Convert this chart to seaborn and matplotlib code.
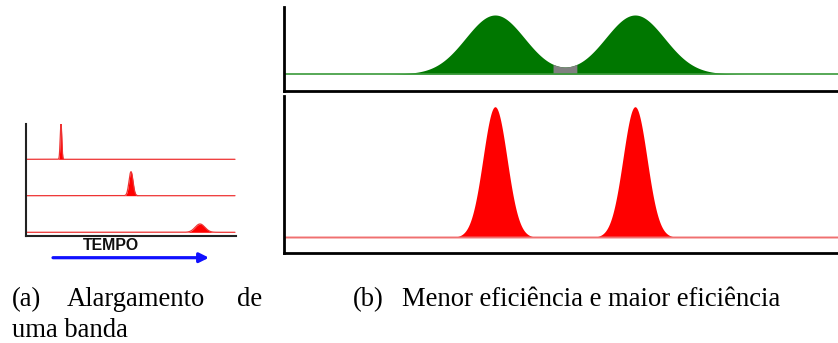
import numpy as np
import pandas as pd
import matplotlib
matplotlib.use("Agg")
import matplotlib.pyplot as plt
import seaborn as sns

# ---------------- data ----------------
# Panel (a): band broadening with time (three stacked chromatogram traces)
a_peak_time = [35, 105, 174]          # retention time (arbitrary units)
a_peak_height = [35.3, 24.0, 8.3]     # peak height
a_peak_sigma = [0.8, 2.0, 4.8]        # band width (std dev)
a_baseline = [76.7, 40.3, 3.7]        # vertical offset of each trace
a_time_range = [0, 209]
a_ylim = [0, 112]

# Panel (b): lower efficiency (top, green) vs higher efficiency (bottom, red)
b_peak_time = [211, 351]
b_low_height = [59, 59]
b_low_sigma = [29.5, 29.5]
b_low_baseline = 17
b_low_ylim = [0, 84]
b_high_height = [130.8, 130.8]
b_high_sigma = [12, 12]
b_high_baseline = 15.5
b_high_ylim = [0, 157]
b_overlap = [269, 293]                # overlapping (unresolved) zone
b_time_range = [0, 554]

tempo_label = "TEMPO"
caption_a_words = ["(a)", "Alargamento", "de"]
caption_a_line2 = "uma banda"
caption_b_label = "(b)"
caption_b_text = "Menor eficiência e maior eficiência"

# ---------------- style ----------------
sns.set_theme(style="white")
plt.rcParams["font.family"] = ["Liberation Serif", "DejaVu Serif"]

W, H = 838, 343
fig = plt.figure(figsize=(W / 100, H / 100), dpi=100)


def px_axes(left, top, right, bottom):
    return fig.add_axes([left / W, 1 - bottom / H, (right - left) / W, (bottom - top) / H])


def gauss(t, mu, h, s):
    return h * np.exp(-0.5 * ((t - mu) / s) ** 2)


def style_axes(ax, lw, color):
    for side in ["top", "right"]:
        ax.spines[side].set_visible(False)
    for side in ["left", "bottom"]:
        ax.spines[side].set_visible(True)
        ax.spines[side].set_linewidth(lw)
        ax.spines[side].set_color(color)
    ax.set_xticks([])
    ax.set_yticks([])
    ax.set_xlabel("")
    ax.set_ylabel("")
    ax.set_facecolor("white")
    ax.margins(0)


# ---------------- panel (a) ----------------
ax_a = px_axes(26, 124, 236, 236)
t_a = np.linspace(a_time_range[0], a_time_range[1], 6000)
for mu, h, s, base in zip(a_peak_time, a_peak_height, a_peak_sigma, a_baseline):
    y = base + gauss(t_a, mu, h, s)
    ax_a.fill_between(t_a, base, y, color="#ff0000", lw=0)
    sns.lineplot(x=t_a, y=y, ax=ax_a, color="#ee3333", lw=0.9)
ax_a.set_xlim(a_time_range[0], a_time_range[1] + 1)
ax_a.set_ylim(*a_ylim)
style_axes(ax_a, 1.5, "#222222")

fig.text(110.5 / W, 1 - 245 / H, tempo_label, ha="center", va="center",
         fontsize=11.4, fontweight="bold", family=["Liberation Sans", "DejaVu Sans"],
         color="#111111")
fig.add_artist(matplotlib.patches.FancyArrowPatch(
    posA=(53 / W, 1 - 257.7 / H), posB=(209 / W, 1 - 257.7 / H),
    transform=fig.transFigure, arrowstyle="-|>", mutation_scale=14,
    color="#1010ff", lw=2.3, shrinkA=0, shrinkB=0))

# ---------------- panel (b) top: low efficiency ----------------
ax_b1 = px_axes(284, 7, 838, 91)
t_b = np.linspace(b_time_range[0], b_time_range[1], 4000)
y_low = b_low_baseline + sum(gauss(t_b, mu, h, s) for mu, h, s in
                             zip(b_peak_time, b_low_height, b_low_sigma))
ax_b1.fill_between(t_b, b_low_baseline, y_low, color="#007700", lw=0)
in_gap = (t_b >= b_overlap[0]) & (t_b <= b_overlap[1])
ax_b1.fill_between(t_b, b_low_baseline, y_low, where=in_gap, color="#808080", lw=0)
sns.lineplot(x=t_b, y=np.full_like(t_b, b_low_baseline), ax=ax_b1, color="#3a9a3a", lw=1.2)
ax_b1.set_xlim(*b_time_range)
ax_b1.set_ylim(*b_low_ylim)
style_axes(ax_b1, 2.0, "#000000")

# ---------------- panel (b) bottom: high efficiency ----------------
ax_b2 = px_axes(284, 96, 838, 253)
y_high = b_high_baseline + sum(gauss(t_b, mu, h, s) for mu, h, s in
                               zip(b_peak_time, b_high_height, b_high_sigma))
ax_b2.fill_between(t_b, b_high_baseline, y_high, color="#ff0000", lw=0)
sns.lineplot(x=t_b, y=np.full_like(t_b, b_high_baseline), ax=ax_b2, color="#f07070", lw=1.4)
ax_b2.set_xlim(*b_time_range)
ax_b2.set_ylim(*b_high_ylim)
style_axes(ax_b2, 2.0, "#000000")

# ---------------- captions ----------------
cap_fs = 19.2
cap_col = "#000000"
base1 = 1 - 305.7 / H
base2 = 1 - 336.7 / H
fig.text(11.7 / W, base1, caption_a_words[0], ha="left", va="baseline", fontsize=cap_fs, color=cap_col)
fig.text(66.7 / W, base1, caption_a_words[1], ha="left", va="baseline", fontsize=cap_fs, color=cap_col)
fig.text(262 / W, base1, caption_a_words[2], ha="right", va="baseline", fontsize=cap_fs, color=cap_col)
fig.text(11.7 / W, base2, caption_a_line2, ha="left", va="baseline", fontsize=cap_fs, color=cap_col)
fig.text(352.7 / W, base1, caption_b_label, ha="left", va="baseline", fontsize=cap_fs, color=cap_col)
fig.text(401.7 / W, base1, caption_b_text, ha="left", va="baseline", fontsize=cap_fs, color=cap_col)

fig.savefig("out.png", dpi=100, facecolor="white")
